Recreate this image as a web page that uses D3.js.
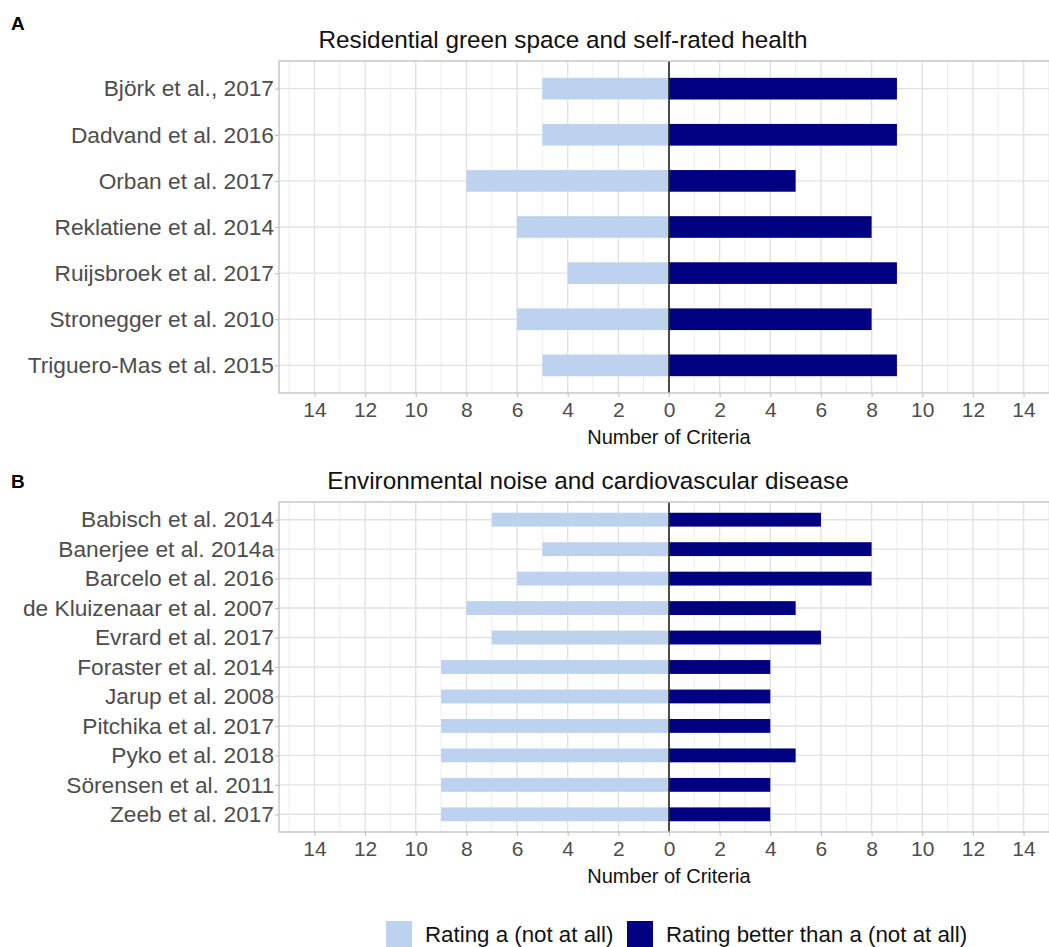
<!DOCTYPE html>
<html>
<head>
<script src="https://d3js.org/d3.v7.min.js"></script>
<style>
  body { margin: 0; background: #fff; }
  svg { display: block; font-family: "Liberation Sans", Arial, sans-serif; }
</style>
</head>
<body>
<svg width="1049" height="947"></svg>
<script>
// panel A data
var studiesA = ["Björk et al., 2017", "Dadvand et al. 2016", "Orban et al. 2017",
  "Reklatiene et al. 2014", "Ruijsbroek et al. 2017", "Stronegger et al. 2010",
  "Triguero-Mas et al. 2015"];
var ratingA_A = [5, 5, 8, 6, 4, 6, 5];      // "Rating a (not at all)"
var ratingBetter_A = [9, 9, 5, 8, 9, 8, 9]; // "Rating better than a"

// panel B data
var studiesB = ["Babisch et al. 2014", "Banerjee et al. 2014a", "Barcelo et al. 2016",
  "de Kluizenaar et al. 2007", "Evrard et al. 2017", "Foraster et al. 2014",
  "Jarup et al. 2008", "Pitchika et al. 2017", "Pyko et al. 2018",
  "Sörensen et al. 2011", "Zeeb et al. 2017"];
var ratingA_B = [7, 5, 6, 8, 7, 9, 9, 9, 9, 9, 9];
var ratingBetter_B = [6, 8, 8, 5, 6, 4, 4, 4, 5, 4, 4];

var xTicks = d3.range(-14, 15, 2);
var xMinor = d3.range(-15, 16, 2);

var lightCol = "#bcd2ee", darkCol = "#000080";

var svg = d3.select("svg");

function drawPanel(opt) {
  var x = d3.scaleLinear().domain([-15.4, 15.4]).range([279, 1059]);
  var y = d3.scalePoint().domain(opt.studies).range([opt.top, opt.bottom]).padding(0.6);
  var step = y.step();
  var barH = step * 0.47;

  var g = svg.append("g");

  // panel gridlines
  g.selectAll(".minor").data(xMinor).enter().append("line")
    .attr("x1", d => x(d)).attr("x2", d => x(d))
    .attr("y1", opt.top).attr("y2", opt.bottom)
    .attr("stroke", "#ededed").attr("stroke-width", 1);
  g.selectAll(".major").data(xTicks).enter().append("line")
    .attr("x1", d => x(d)).attr("x2", d => x(d))
    .attr("y1", opt.top).attr("y2", opt.bottom)
    .attr("stroke", "#e2e2e2").attr("stroke-width", 1.4);
  g.selectAll(".hgrid").data(opt.studies).enter().append("line")
    .attr("x1", x.range()[0]).attr("x2", x.range()[1])
    .attr("y1", d => y(d)).attr("y2", d => y(d))
    .attr("stroke", "#e2e2e2").attr("stroke-width", 1.4);

  // bars
  g.selectAll(".barA").data(opt.studies).enter().append("rect")
    .attr("x", (d, i) => x(-opt.left[i]))
    .attr("width", (d, i) => x(0) - x(-opt.left[i]))
    .attr("y", d => y(d) - barH / 2)
    .attr("height", barH)
    .attr("fill", lightCol);
  g.selectAll(".barB").data(opt.studies).enter().append("rect")
    .attr("x", x(0))
    .attr("width", (d, i) => x(opt.right[i]) - x(0))
    .attr("y", d => y(d) - barH / 2)
    .attr("height", barH)
    .attr("fill", darkCol);

  // zero line
  g.append("line")
    .attr("x1", x(0)).attr("x2", x(0))
    .attr("y1", opt.top).attr("y2", opt.bottom)
    .attr("stroke", "#222").attr("stroke-width", 1.6);

  // panel border
  g.append("rect")
    .attr("x", x.range()[0]).attr("y", opt.top)
    .attr("width", x.range()[1] - x.range()[0])
    .attr("height", opt.bottom - opt.top)
    .attr("fill", "none").attr("stroke", "#c4c4c4").attr("stroke-width", 1.4);

  // x axis
  var xAxis = d3.axisBottom(x).tickValues(xTicks)
    .tickFormat(d => Math.abs(d)).tickSize(4).tickPadding(5);
  var ax = g.append("g").attr("transform", "translate(0," + opt.bottom + ")").call(xAxis);
  ax.select(".domain").remove();
  ax.selectAll(".tick line").attr("stroke", "#c4c4c4").attr("stroke-width", 1.2);
  ax.selectAll(".tick text").attr("fill", "#4d4d4d")
    .style("font-size", "21px").style("font-family", "Liberation Sans, Arial, sans-serif");

  // y axis
  var yAxis = d3.axisLeft(y).tickSize(4).tickPadding(1);
  var ay = g.append("g").attr("transform", "translate(" + x.range()[0] + ",0)").call(yAxis);
  ay.select(".domain").remove();
  ay.selectAll(".tick line").attr("stroke", "#c4c4c4").attr("stroke-width", 1.2);
  ay.selectAll(".tick text").attr("fill", "#4d4d4d")
    .style("font-size", "22.7px").style("font-family", "Liberation Sans, Arial, sans-serif");

  // axis title
  g.append("text").attr("x", x(0)).attr("y", opt.bottom + 51)
    .attr("text-anchor", "middle").style("font-size", "20px").attr("fill", "#111")
    .text("Number of Criteria");

  // panel title
  g.append("text").attr("x", opt.titleX).attr("y", opt.top - 13)
    .attr("text-anchor", "middle").style("font-size", "24.3px").attr("fill", "#111")
    .text(opt.title);

  // tag letter
  g.append("text").attr("x", 11).attr("y", opt.tagY)
    .style("font-size", "19px").style("font-weight", "bold").attr("fill", "#000")
    .text(opt.tag);
}

drawPanel({studies: studiesA, left: ratingA_A, right: ratingBetter_A,
  top: 61, bottom: 393, title: "Residential green space and self-rated health",
  titleX: 563, tag: "A", tagY: 30});

drawPanel({studies: studiesB, left: ratingA_B, right: ratingBetter_B,
  top: 502, bottom: 832, title: "Environmental noise and cardiovascular disease",
  titleX: 588, tag: "B", tagY: 488});

// legend
var legendItems = [
  {label: "Rating a (not at all)", color: lightCol, x: 386},
  {label: "Rating better than a (not at all)", color: darkCol, x: 627}
];
var lg = svg.append("g");
lg.selectAll("rect").data(legendItems).enter().append("rect")
  .attr("x", d => d.x).attr("y", 921).attr("width", 26).attr("height", 26)
  .attr("fill", d => d.color);
lg.selectAll("text").data(legendItems).enter().append("text")
  .attr("x", d => d.x + 39).attr("y", 942)
  .style("font-size", "22.3px").attr("fill", "#111")
  .text(d => d.label);
</script>
</body>
</html>
